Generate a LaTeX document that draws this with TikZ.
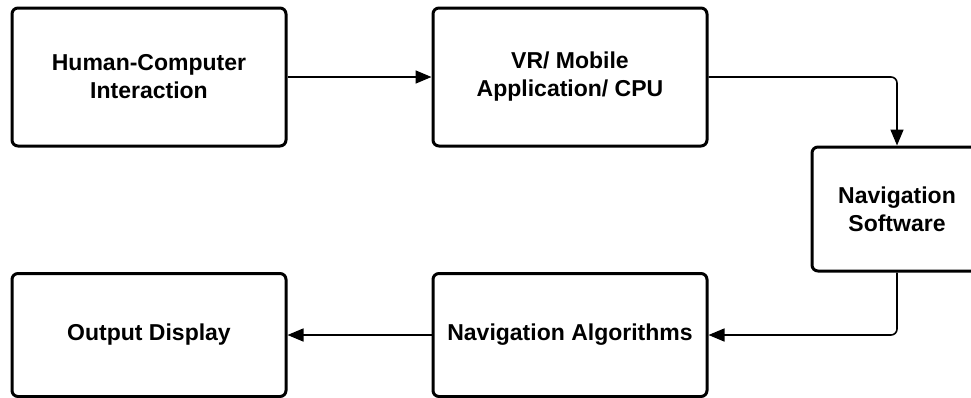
\documentclass[tikz,border=0pt]{standalone}
\usepackage{fontspec}
\setmainfont{Liberation Sans}
\usetikzlibrary{arrows.meta}
\begin{document}
\begin{tikzpicture}[x=1pt,y=-1pt,
  box/.style={draw=black, line width=3pt, rounded corners=6pt, fill=white,
    align=center, inner sep=0pt, font=\fontsize{23}{28}\selectfont\bfseries},
  conn/.style={draw=black, line width=1.6pt, rounded corners=6pt,
    -{Triangle[length=16pt,width=13pt]}}]
\useasboundingbox (0,0) rectangle (971,397);
\node[box, minimum width=274pt, minimum height=138pt] (hci) at (149,77) {Human-Computer\\Interaction};
\node[box, minimum width=274pt, minimum height=138pt] (vr) at (570,77) {VR/ Mobile\\Application/ CPU};
\node[box, minimum width=170pt, minimum height=124pt] (ns) at (897,209) {Navigation\\Software};
\node[box, minimum width=274pt, minimum height=123pt] (na) at (570,335) {Navigation Algorithms};
\node[box, minimum width=274pt, minimum height=123pt] (od) at (149,335) {Output Display};
\draw[conn] (hci.east) -- (vr.west);
\draw[conn] (vr.east) -| (ns.north);
\draw[conn] (ns.south) |- (na.east);
\draw[conn] (na.west) -- (od.east);
\end{tikzpicture}
\end{document}
